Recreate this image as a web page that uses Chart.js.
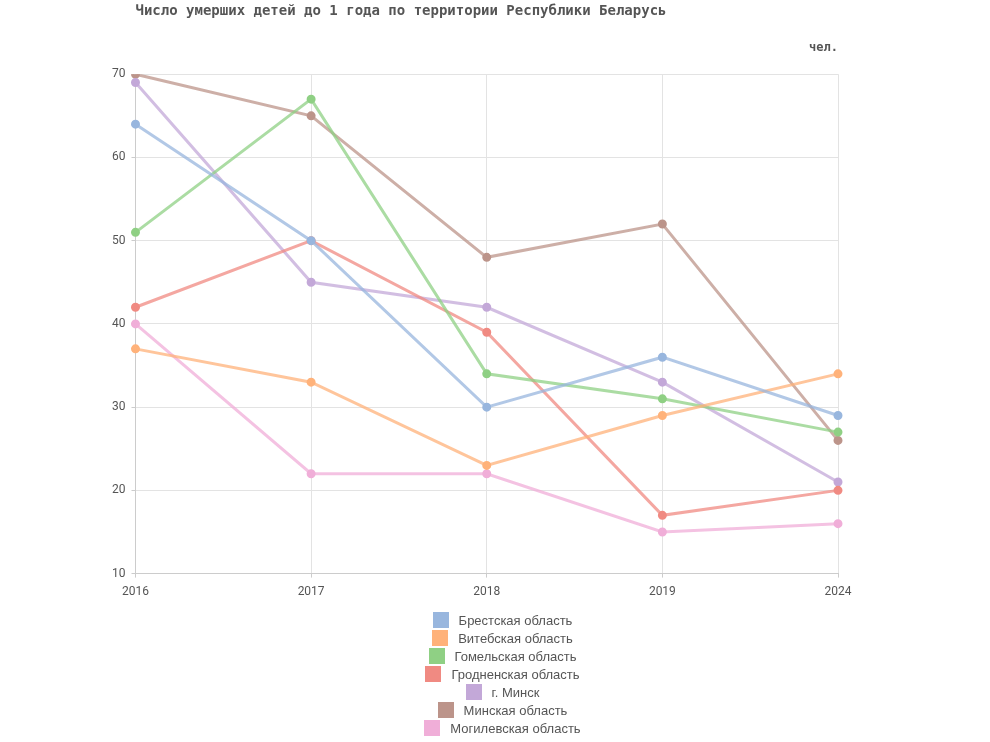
<!DOCTYPE html>
<html>
<head>
<meta charset="utf-8">
<script src="https://cdn.jsdelivr.net/npm/chart.js@4/dist/chart.umd.min.js"></script>
<style>
  body { margin: 0; background: #fff; }
  #wrap { position: relative; width: 990px; height: 742px; }
  #legenda {
    position: absolute; left: 0; top: 611px; width: 1005px;
    font-family: "Liberation Sans", Arial, sans-serif; font-size: 13px; color: #555;
  }
  .fila { height: 18px; display: flex; justify-content: center; align-items: center; }
  .caja { width: 16px; height: 16px; margin-right: 10px; }
</style>
</head>
<body>
<div id="wrap">
  <canvas id="grafico" width="990" height="742"></canvas>
  <div id="legenda"></div>
</div>
<script>
const anios = ['2016', '2017', '2018', '2019', '2024'];
const regiones = ['Брестская область', 'Витебская область', 'Гомельская область', 'Гродненская область', 'г. Минск', 'Минская область', 'Могилевская область'];
const brest = [64, 50, 30, 36, 29];
const vitebsk = [37, 33, 23, 29, 34];
const gomel = [51, 67, 34, 31, 27];
const grodno = [42, 50, 39, 17, 20];
const minskCiudad = [69, 45, 42, 33, 21];
const minskRegion = [70, 65, 48, 52, 26];
const mogilev = [40, 22, 22, 15, 16];
const colores = ['#98b6de', '#ffb27a', '#8fd084', '#f08a82', '#c3a8d8', '#bc948a', '#f0aed8'];

const series = [brest, vitebsk, gomel, grodno, minskCiudad, minskRegion, mogilev];

function conAlfa(hex, a) {
  const n = parseInt(hex.slice(1), 16);
  return `rgba(${(n >> 16) & 255}, ${(n >> 8) & 255}, ${n & 255}, ${a})`;
}

const datasets = series.map((valores, i) => ({
  label: regiones[i],
  data: valores,
  borderColor: conAlfa(colores[i], 0.75),
  backgroundColor: colores[i],
  pointBackgroundColor: colores[i],
  pointBorderColor: colores[i],
  borderWidth: 3,
  pointRadius: 3,
  tension: 0
}));

const ctx = document.getElementById('grafico').getContext('2d');
const chart = new Chart(ctx, {
  type: 'line',
  data: { labels: anios, datasets: datasets },
  options: {
    responsive: false,
    animation: false,
    layout: { padding: { left: 106, right: 152, top: 0, bottom: 136 } },
    plugins: {
      legend: { display: false },
      tooltip: { enabled: false },
      title: {
        display: true,
        text: 'Число умерших детей до 1 года по территории Республики Беларусь',
        align: 'start',
        fullSize: false,
        color: '#555',
        font: { family: '"DejaVu Sans Mono", monospace', size: 14, weight: 'bold' },
        padding: { top: 3, bottom: 10 }
      },
      subtitle: {
        display: true,
        text: 'чел.',
        align: 'end',
        fullSize: false,
        color: '#555',
        font: { family: '"DejaVu Sans Mono", monospace', size: 12, weight: 'bold' },
        padding: { top: 11, bottom: 19 }
      }
    },
    scales: {
      x: {
        type: 'category',
        offset: false,
        grid: { color: '#e3e3e3', tickLength: 4, tickColor: '#ccc' },
        border: { color: '#ccc' },
        ticks: { color: '#555', padding: 7, font: { family: 'Roboto', size: 12 } }
      },
      y: {
        min: 10,
        max: 70,
        grid: { color: '#e3e3e3', tickLength: 4, tickColor: '#ccc' },
        border: { color: '#ccc' },
        ticks: { stepSize: 10, color: '#555', padding: 6, font: { family: 'Roboto', size: 12 } }
      }
    }
  }
});

// leyenda en HTML, una región por fila
const items = chart.options.plugins.legend.labels.generateLabels(chart);
const legenda = document.getElementById('legenda');
items.forEach(item => {
  const fila = document.createElement('div');
  fila.className = 'fila';
  const caja = document.createElement('span');
  caja.className = 'caja';
  caja.style.background = colores[item.datasetIndex];
  const texto = document.createElement('span');
  texto.innerText = item.text;
  fila.appendChild(caja);
  fila.appendChild(texto);
  legenda.appendChild(fila);
});
</script>
</body>
</html>
